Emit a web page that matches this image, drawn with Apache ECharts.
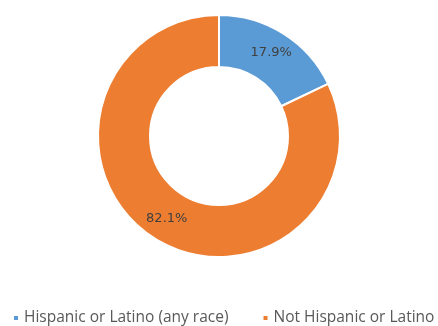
<!DOCTYPE html>
<html>
<head>
<meta charset="utf-8">
<script src="https://cdn.jsdelivr.net/npm/echarts@6/dist/echarts.min.js"></script>
<style>
html,body{margin:0;padding:0;background:#fff;}
#c{width:438px;height:326px;}
</style>
</head>
<body>
<div id="c"></div>
<script>
var categories = ["Hispanic or Latino (any race)", "Not Hispanic or Latino"];
var values = [17.9, 82.1];
var colors = ["#5B9BD5", "#ED7D31"];

var chart = echarts.init(document.getElementById('c'), null, {renderer: 'canvas'});
chart.setOption({
  animation: false,
  backgroundColor: '#ffffff',
  color: colors,
  legend: {
    left: 12,
    top: 310,
    padding: 0,
    icon: 'rect',
    itemWidth: 6,
    itemHeight: 6,
    itemGap: 33,
    itemTextGap: 6,
    textStyle: {fontFamily: 'Open Sans', fontSize: 15.5, color: '#595959'},
    data: categories
  },
  series: [{
    type: 'pie',
    center: [219, 136],
    radius: [69, 121],
    startAngle: 90,
    clockwise: true,
    avoidLabelOverlap: false,
    itemStyle: {borderColor: '#ffffff', borderWidth: 2},
    label: {
      show: true,
      position: 'inside',
      formatter: function(p){ return p.value.toFixed(1) + '%'; },
      fontFamily: 'DejaVu Sans',
      fontSize: 13,
      color: '#404040'
    },
    labelLine: {show: false},
    data: categories.map(function(n, i){ return {name: n, value: values[i]}; })
  }]
});
</script>
</body>
</html>
